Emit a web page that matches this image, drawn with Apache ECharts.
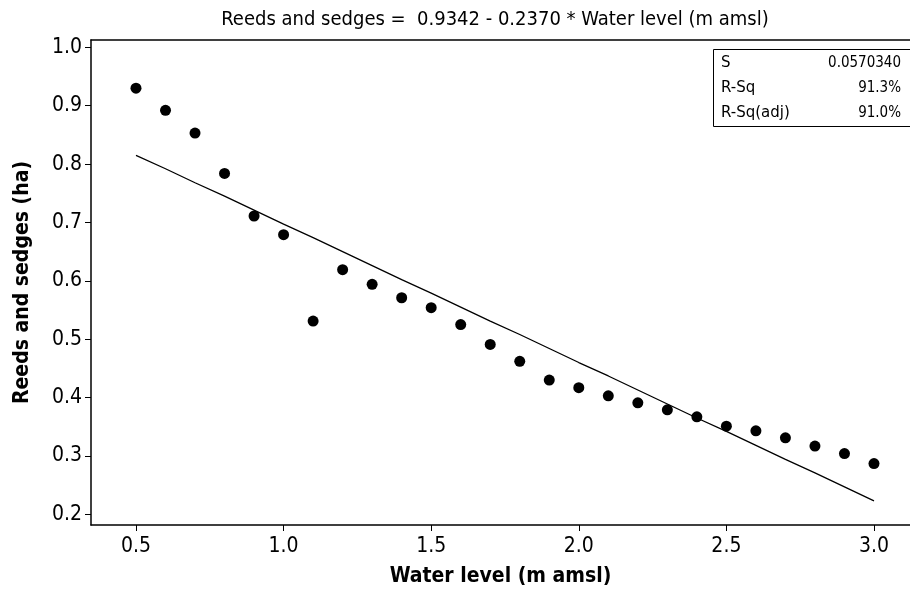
<!DOCTYPE html>
<html>
<head>
<meta charset="utf-8">
<script src="https://cdn.jsdelivr.net/npm/echarts@6/dist/echarts.min.js"></script>
<style>
  html, body { margin: 0; padding: 0; background: #fff; }
  #chart { width: 910px; height: 592px; }
</style>
</head>
<body>
<div id="chart"></div>
<script>
// Water level (m amsl) at each observation
const waterLevel = [0.5, 0.6, 0.7, 0.8, 0.9, 1.0, 1.1, 1.2, 1.3, 1.4, 1.5, 1.6, 1.7,
  1.8, 1.9, 2.0, 2.1, 2.2, 2.3, 2.4, 2.5, 2.6, 2.7, 2.8, 2.9, 3.0];
// Observed reeds and sedges area (ha)
const reedsObserved = [0.930, 0.892, 0.853, 0.784, 0.711, 0.679, 0.531, 0.619, 0.594,
  0.571, 0.554, 0.525, 0.491, 0.462, 0.430, 0.417, 0.403, 0.391, 0.379, 0.367, 0.351,
  0.343, 0.331, 0.317, 0.304, 0.287];
// Fitted regression line values (ha)
const reedsFitted = [0.815, 0.792, 0.768, 0.745, 0.721, 0.697, 0.674, 0.650, 0.626,
  0.602, 0.579, 0.555, 0.531, 0.508, 0.484, 0.460, 0.437, 0.413, 0.389, 0.365, 0.342,
  0.318, 0.294, 0.271, 0.247, 0.223];
// Axis ticks
const xTicks = [0.5, 1.0, 1.5, 2.0, 2.5, 3.0];
const yTicks = [0.2, 0.3, 0.4, 0.5, 0.6, 0.7, 0.8, 0.9, 1.0];
// Fit summary
const statNames = ['S', 'R-Sq', 'R-Sq(adj)'];
const statValues = ['0.0570340', '91.3%', '91.0%'];

const FONT = '"DejaVu Sans Condensed", "Liberation Sans Narrow", "DejaVu Sans", sans-serif';
const FONT_WIDE = '"DejaVu Sans", sans-serif';

const chart = echarts.init(document.getElementById('chart'), null, { renderer: 'canvas' });

// Summary box in the upper-right corner of the plot
const statGraphics = [{
  type: 'rect',
  shape: { x: 713.5, y: 49.5, width: 210, height: 77 },
  style: { fill: '#fff', stroke: '#000', lineWidth: 1 },
  z: 100
}];
statNames.forEach((n, i) => {
  statGraphics.push({
    type: 'text', x: 721, y: 63.5 + i * 25, z: 101,
    style: { text: n, font: '15px ' + FONT_WIDE, fill: '#000', verticalAlign: 'middle', align: 'left' }
  });
  statGraphics.push({
    type: 'text', x: 901, y: 63.5 + i * 25, z: 101,
    style: { text: statValues[i], font: '15px ' + FONT, fill: '#000', verticalAlign: 'middle', align: 'right' }
  });
});

chart.setOption({
  backgroundColor: '#fff',
  animation: false,
  title: {
    text: 'Reeds and sedges =  0.9342 - 0.2370 * Water level (m amsl)',
    left: 490, top: 5, textAlign: 'center',
    textStyle: { fontFamily: FONT, fontSize: 20, fontWeight: 'normal', color: '#000' }
  },
  grid: { left: 91, top: 40, right: 0, bottom: 66, show: false },
  xAxis: [{
    type: 'value', min: 0.3476, max: 3.122,
    name: 'Water level (m amsl)', nameLocation: 'middle', nameGap: 41,
    nameTextStyle: { fontFamily: FONT, fontSize: 21, fontWeight: 'bold', color: '#000' },
    axisLine: { show: true, lineStyle: { color: '#000', width: 1.5 } },
    axisTick: { show: true, length: 6, lineStyle: { color: '#000' }, customValues: xTicks },
    axisLabel: { fontFamily: FONT, fontSize: 21, color: '#000', margin: 11,
      customValues: xTicks, formatter: v => v.toFixed(1) },
    splitLine: { show: false }
  }, {
    // top frame line
    type: 'value', position: 'top', min: 0.3476, max: 3.122,
    axisLine: { show: true, onZero: false, lineStyle: { color: '#000', width: 1.5 } },
    axisTick: { show: false }, axisLabel: { show: false }, splitLine: { show: false }
  }],
  yAxis: {
    type: 'value', min: 0.1817, max: 1.0125,
    name: 'Reeds and sedges (ha)', nameLocation: 'middle', nameGap: 58,
    nameTextStyle: { fontFamily: FONT, fontSize: 21, fontWeight: 'bold', color: '#000' },
    axisLine: { show: true, lineStyle: { color: '#000', width: 1.5 } },
    axisTick: { show: true, length: 6, lineStyle: { color: '#000' }, customValues: yTicks },
    axisLabel: { fontFamily: FONT, fontSize: 21, color: '#000', margin: 9,
      customValues: yTicks, formatter: v => v.toFixed(1) },
    splitLine: { show: false }
  },
  series: [
    {
      type: 'line',
      data: waterLevel.map((x, i) => [x, reedsFitted[i]]),
      showSymbol: false, symbol: 'none',
      lineStyle: { color: '#000', width: 1.3 },
      z: 2
    },
    {
      type: 'scatter',
      data: waterLevel.map((x, i) => [x, reedsObserved[i]]),
      symbol: 'circle', symbolSize: 11,
      itemStyle: { color: '#000', opacity: 1 },
      z: 3
    }
  ],
  graphic: statGraphics
});
</script>
</body>
</html>
